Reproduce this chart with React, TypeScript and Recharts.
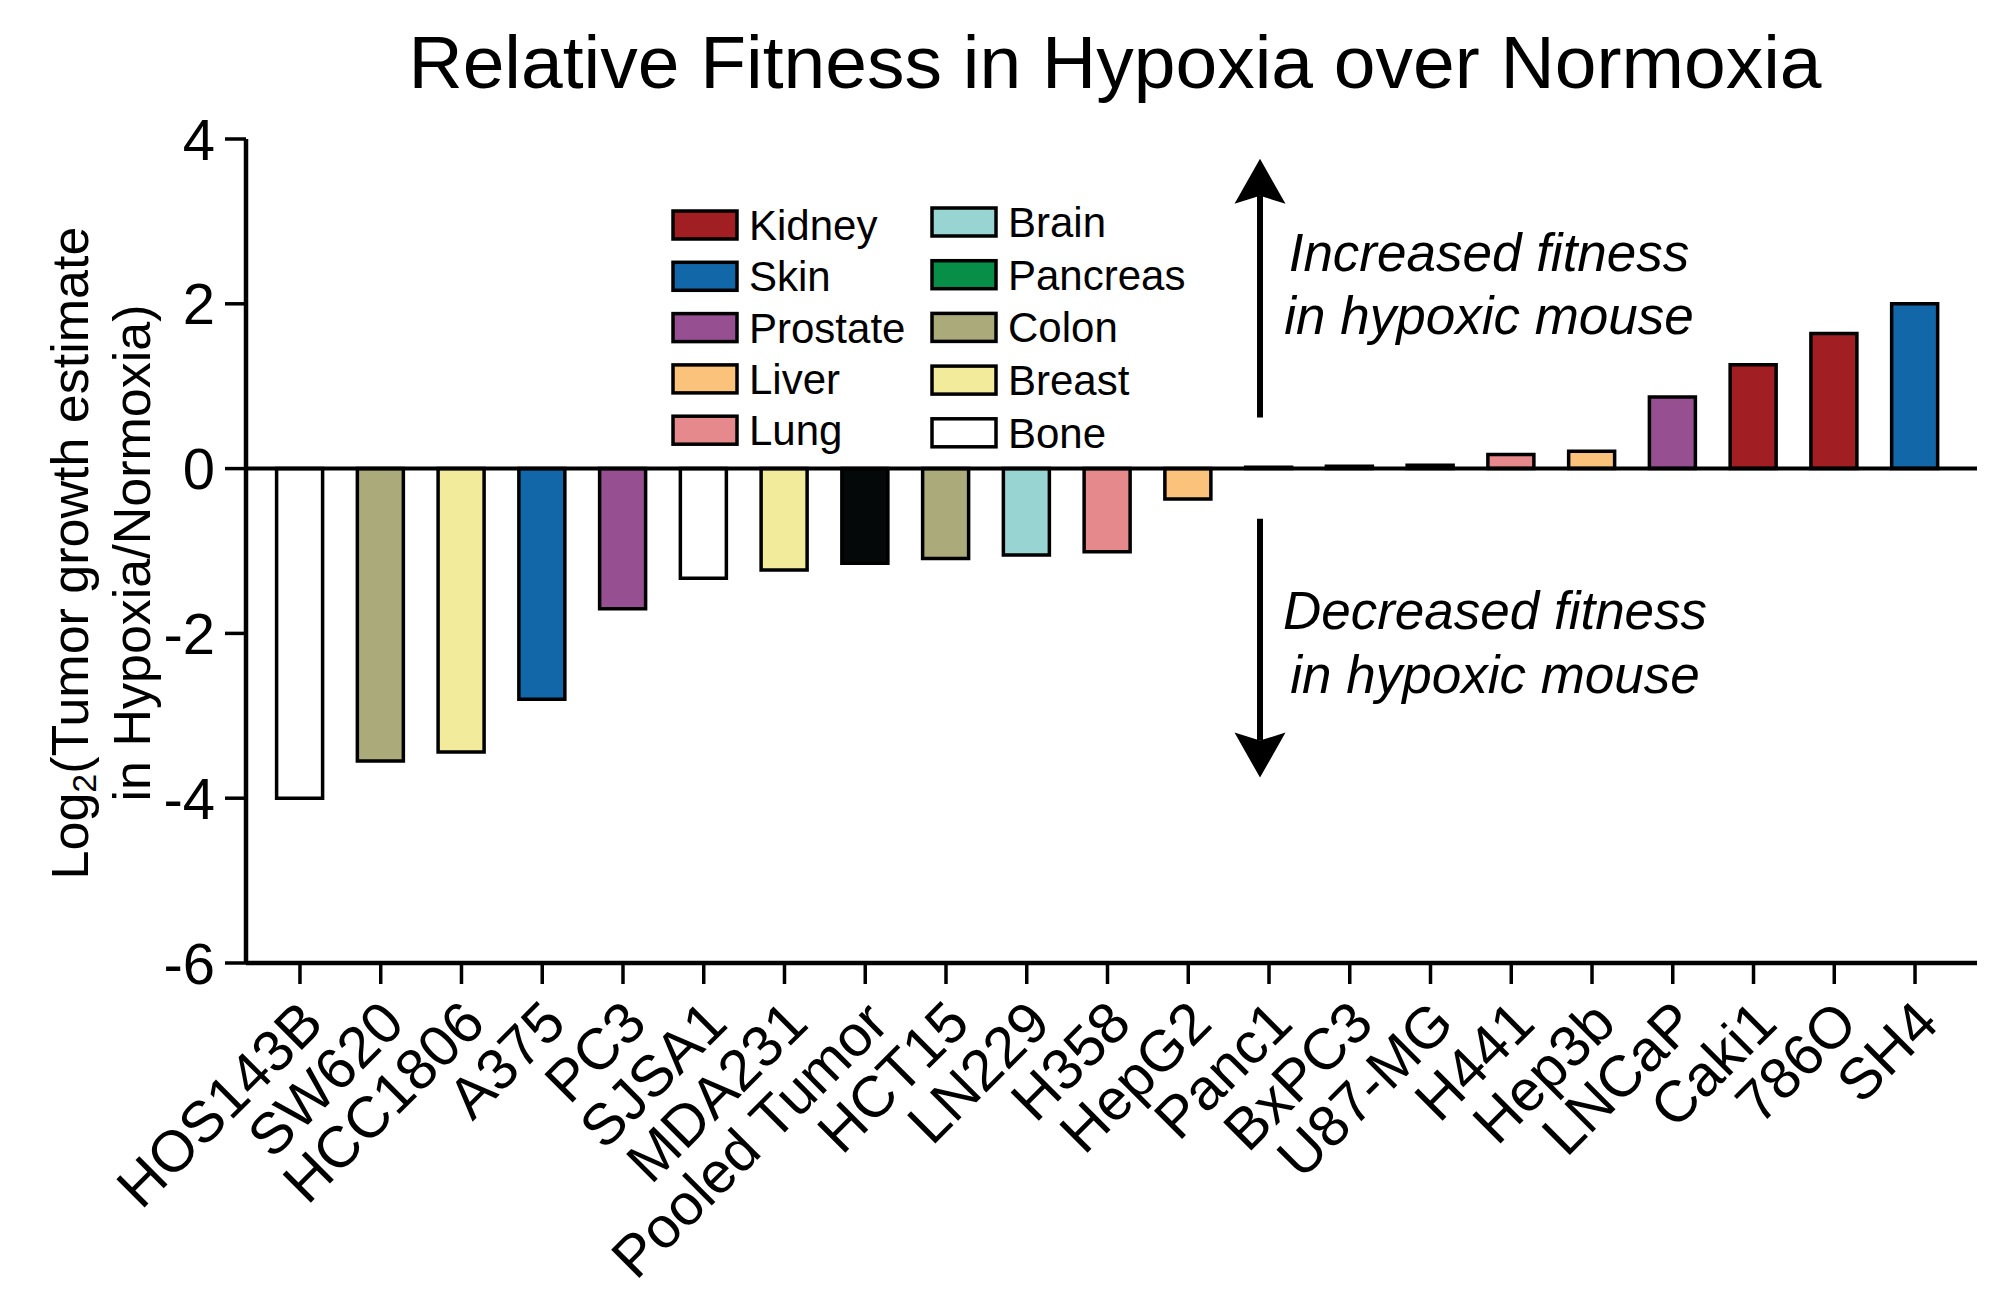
import React from 'react';
import { BarChart, Bar, XAxis, YAxis, Cell, ReferenceLine, Legend } from 'recharts';

// cell lines, sorted from lowest to highest relative fitness
const cellLines = [
  'HOS143B', 'SW620', 'HCC1806', 'A375', 'PC3', 'SJSA1', 'MDA231', 'Pooled Tumor',
  'HCT15', 'LN229', 'H358', 'HepG2', 'Panc1', 'BxPC3', 'U87-MG', 'H441', 'Hep3b',
  'LNCaP', 'Caki1', '786O', 'SH4',
];
const log2Fitness = [
  -4.0, -3.55, -3.44, -2.8, -1.7, -1.33, -1.23, -1.15, -1.09, -1.05, -1.01, -0.37,
  0.015, 0.03, 0.04, 0.17, 0.21, 0.87, 1.26, 1.64, 2.0,
];
const tissueOfLine = [
  'Bone', 'Colon', 'Breast', 'Skin', 'Prostate', 'Bone', 'Breast', 'Pooled',
  'Colon', 'Brain', 'Lung', 'Liver', 'Pancreas', 'Pancreas', 'Brain', 'Lung', 'Liver',
  'Prostate', 'Kidney', 'Kidney', 'Skin',
];
const legendLeft = ['Kidney', 'Skin', 'Prostate', 'Liver', 'Lung'];
const legendRight = ['Brain', 'Pancreas', 'Colon', 'Breast', 'Bone'];
const tissueColors: Record<string, string> = {
  Kidney: '#a11e23',
  Skin: '#1167a8',
  Prostate: '#964f91',
  Liver: '#fbc27b',
  Lung: '#e6898c',
  Brain: '#98d4d1',
  Pancreas: '#078f47',
  Colon: '#abaa7a',
  Breast: '#f2eb9c',
  Bone: '#ffffff',
  Pooled: '#050808',
};
const yTicks = [-6, -4, -2, 0, 2, 4];

const FONT = '"Liberation Sans", Arial, Helvetica, sans-serif';
const W = 1990;
const H = 1300;

const data = cellLines.map((name, i) => ({
  name,
  value: log2Fitness[i],
  tissue: tissueOfLine[i],
}));

const XTick = (props: any) => {
  const { x, y, payload } = props;
  return (
    <g transform={`translate(${x + 26},${y + 40})`}>
      <text transform="rotate(-45)" textAnchor="end" fontSize={58} fill="#000" fontFamily={FONT}>
        {payload.value}
      </text>
    </g>
  );
};

const YLabel = (props: any) => {
  const vb = props.viewBox || {};
  const cy = (vb.y ?? 131) + (vb.height ?? 824) / 2 + 2;
  return (
    <g fontFamily={FONT} fill="#000">
      <text transform={`translate(62,${cy}) rotate(-90)`} textAnchor="middle" dominantBaseline="central" fontSize={52}>
        <tspan>Log</tspan>
        <tspan fontSize={34} dy={14}>2</tspan>
        <tspan dy={-14}>(Tumor growth estimate</tspan>
      </text>
      <text transform={`translate(124,${cy}) rotate(-90)`} textAnchor="middle" dominantBaseline="central" fontSize={52}>
        in Hypoxia/Normoxia)
      </text>
    </g>
  );
};

// arrow with italic caption, drawn from a reference segment
const makeArrow = (lines: string[], textDx: number, textDys: number[]) => (p: any) => {
  const { x1, y1, y2 } = p;
  const x = x1 - 9;
  const dir = y2 < y1 ? -1 : 1;
  const baseY = y2 - dir * 45;
  const notchY = y2 - dir * 37;
  const anchorY = dir < 0 ? y2 : y1;
  return (
    <g>
      <line x1={x} y1={y1} x2={x} y2={notchY} stroke="#000" strokeWidth={6} />
      <polygon points={`${x},${y2} ${x + 25.5},${baseY} ${x},${notchY} ${x - 25.5},${baseY}`} fill="#000" />
      {lines.map((t, i) => (
        <text
          key={t + i}
          x={x + textDx}
          y={anchorY + textDys[i]}
          textAnchor="middle"
          fontStyle="italic"
          fontSize={53}
          fontFamily={FONT}
          fill="#000"
        >
          {t}
        </text>
      ))}
    </g>
  );
};

const TissueLegend = () => {
  const col = (names: string[], rectX: number, textX: number, top: number, step: number) =>
    names.map((n, i) => {
      const cy = top + step * i;
      return (
        <g key={n}>
          <rect x={rectX} y={cy - 14} width={64} height={28} fill={tissueColors[n]} stroke="#000" strokeWidth={3.5} />
          <text x={textX} y={cy + 15} fontSize={42} fontFamily={FONT} fill="#000">
            {n}
          </text>
        </g>
      );
    });
  return (
    <svg width={620} height={280}>
      {col(legendLeft, 25, 101, 37, 51.3)}
      {col(legendRight, 284, 360, 34, 52.7)}
    </svg>
  );
};

export default function App() {
  return (
    <div style={{ position: 'relative', width: W, height: H, fontFamily: FONT }}>
      <svg style={{ position: 'absolute', left: 0, top: 0 }} width={W} height={120}>
        <text x={1107} y={80} textAnchor="middle" fontSize={75} fontFamily={FONT} fill="#000">
          Relative Fitness in Hypoxia over Normoxia
        </text>
      </svg>
      <BarChart
        width={W}
        height={H}
        data={data}
        margin={{ top: 131, right: 21, bottom: 15, left: 0 }}
        barSize={46}
      >
        <XAxis
          dataKey="name"
          interval={0}
          padding={{ left: 13.6, right: 21.6 }}
          height={330}
          tickSize={21}
          tick={<XTick />}
          axisLine={{ stroke: '#000', strokeWidth: 4.5 }}
          tickLine={{ stroke: '#000', strokeWidth: 3.5 }}
        />
        <YAxis
          domain={[-6, 4]}
          ticks={yTicks}
          width={238}
          tickSize={21}
          tickMargin={10}
          tick={{ fontSize: 58, fill: '#000', fontFamily: FONT }}
          axisLine={{ stroke: '#000', strokeWidth: 4.5 }}
          tickLine={{ stroke: '#000', strokeWidth: 3.5 }}
          label={(props: any) => <YLabel {...props} />}
        />
        <Bar dataKey="value" stroke="#000" strokeWidth={3.5} isAnimationActive={false}>
          {data.map((d) => (
            <Cell key={d.name} fill={tissueColors[d.tissue]} />
          ))}
        </Bar>
        <ReferenceLine y={0} stroke="#000" strokeWidth={4} />
        <ReferenceLine
          segment={[{ x: 'Panc1', y: 0.62 }, { x: 'Panc1', y: 3.76 }]}
          ifOverflow="visible"
          shape={makeArrow(['Increased fitness', 'in hypoxic mouse'], 229, [112, 175])}
        />
        <ReferenceLine
          segment={[{ x: 'Panc1', y: -0.61 }, { x: 'Panc1', y: -3.75 }]}
          ifOverflow="visible"
          shape={makeArrow(['Decreased fitness', 'in hypoxic mouse'], 235, [110, 174])}
        />
        <Legend
          layout="horizontal"
          verticalAlign="middle"
          align="center"
          wrapperStyle={{ left: 640, top: 180, width: 620, height: 280 }}
          content={() => <TissueLegend />}
        />
      </BarChart>
    </div>
  );
}
